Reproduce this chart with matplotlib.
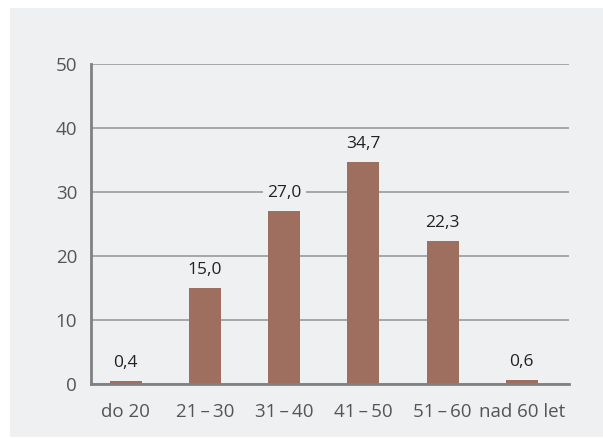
import matplotlib
matplotlib.use("Agg")
import matplotlib.pyplot as plt
from matplotlib.patches import Rectangle

# age groups and share of respondents (%)
categories = ["do 20", "21\u2009–\u200930", "31\u2009–\u200940", "41\u2009–\u200950",
              "51\u2009–\u200960", "nad 60 let"]
values = [0.4, 15.0, 27.0, 34.7, 22.3, 0.6]
yticks = [0, 10, 20, 30, 40, 50]

panel = "#eff0f2"
bar_color = "#9e6e5e"

plt.rcParams["font.family"] = ["Open Sans", "DejaVu Sans"]

fig = plt.figure(figsize=(6.03, 4.38), dpi=100)
fig.patch.set_facecolor("white")
fig.patches.append(Rectangle((10 / 603, 1 / 438), 593 / 603, 429 / 438,
                             transform=fig.transFigure, facecolor=panel,
                             edgecolor="none", zorder=-10))

ax = fig.add_axes([91 / 603, 54 / 438, 478 / 603, 320 / 438])
ax.set_facecolor(panel)
ax.patch.set_alpha(0)

x = list(range(len(categories)))
bars = ax.bar(x, values, width=0.404, color=bar_color, zorder=3)

ax.set_xlim(-0.438, 5.597)
ax.set_ylim(0, 50)
ax.set_yticks(yticks)
ax.set_yticklabels([str(t) for t in yticks], fontsize=13.5, color="#555555")
ax.set_xticks(x)
ax.set_xticklabels(categories, fontsize=13.5, color="#555555")
ax.tick_params(axis="both", length=0)
ax.tick_params(axis="y", pad=10)
ax.tick_params(axis="x", pad=14)

ax.yaxis.grid(True, color="#9a9a9a", linewidth=1.2, zorder=1)
ax.set_axisbelow(True)

for side in ("top", "right"):
    ax.spines[side].set_visible(False)
ax.spines["left"].set_color("#808080")
ax.spines["left"].set_linewidth(2)
ax.spines["bottom"].set_color("#808080")
ax.spines["bottom"].set_linewidth(2)
ax.spines["bottom"].set_zorder(4)

# value labels sit on a panel-coloured box so the grid breaks around them
for b, v in zip(bars, values):
    ax.annotate(f"{v:.1f}".replace(".", ","),
                (b.get_x() + b.get_width() / 2, v),
                xytext=(0, 13), textcoords="offset points",
                ha="center", va="center", fontsize=12.5, color="#222222",
                bbox=dict(boxstyle="square,pad=0.25", facecolor=panel,
                          edgecolor="none"),
                zorder=5)

fig.savefig("out.png", dpi=100)
